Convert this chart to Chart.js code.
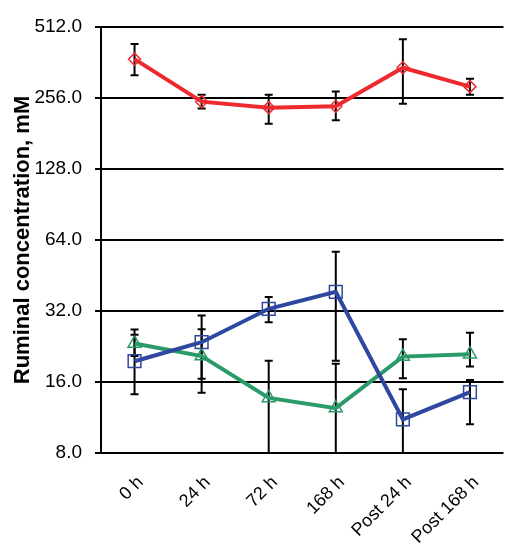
<!DOCTYPE html>
<html><head><meta charset="utf-8">
<script src="https://cdn.jsdelivr.net/npm/chart.js@4"></script>
<style>html,body{margin:0;padding:0;background:#fff;}#wrap{width:514px;height:546px;}</style>
</head><body><div id="wrap"><canvas id="c" width="514" height="546"></canvas></div>
<script>
const categories = ['0 h','24 h','72 h','168 h','Post 24 h','Post 168 h'];
const yTicks = [8,16,32,64,128,256,512];

const redVals = [374, 247, 233, 236, 344, 286];
const redLo   = [320, 231, 199, 206, 242, 264];
const redHi   = [434, 264, 264, 273, 454, 309];

const blueVals = [19.6, 23.6, 32.7, 38.6, 11.1, 14.5];
const blueLo   = [14.2, 14.4, 28.7, 19.7, 8, 10.6];
const blueHi   = [25.4, 30.6, 36.7, 57.1, 14.9, 16.3];

const greenVals = [23.3, 20.6, 13.7, 12.4, 20.5, 21.0];
const greenLo   = [20.6, 16.5, 8, 8, 16.6, 18.6];
const greenHi   = [26.7, 26.8, 19.7, 19.1, 24.3, 25.9];

const RED = '#ee2a2e', BLUE = '#2e479f', GREEN = '#2a9a68';

const errorBars = {
  id: 'errorBars',
  beforeDatasetsDraw(chart) {
    const ctx = chart.ctx, ys = chart.scales.y, a = chart.chartArea;
    ctx.save();
    ctx.beginPath(); ctx.rect(a.left, a.top - 20, a.right - a.left, a.bottom - a.top + 20); ctx.clip();
    ctx.strokeStyle = '#000'; ctx.lineWidth = 2;
    chart.data.datasets.forEach((ds, di) => {
      const meta = chart.getDatasetMeta(di);
      meta.data.forEach((pt, i) => {
        const x = pt.x;
        const yl = Math.min(ys.getPixelForValue(ds.errLo[i]), a.bottom);
        const yh = ys.getPixelForValue(ds.errHi[i]);
        ctx.beginPath();
        ctx.moveTo(x, yl); ctx.lineTo(x, yh);
        ctx.moveTo(x - 4, yl); ctx.lineTo(x + 4, yl);
        ctx.moveTo(x - 4, yh); ctx.lineTo(x + 4, yh);
        ctx.stroke();
      });
    });
    ctx.restore();
  }
};

function ds(label, data, lo, hi, color, style, r) {
  return { label, data, errLo: lo, errHi: hi, borderColor: color, backgroundColor: 'rgba(0,0,0,0)',
    borderWidth: 4, pointStyle: style, pointRadius: r, pointBorderWidth: 1.5,
    pointBorderColor: color, pointBackgroundColor: 'rgba(0,0,0,0)', tension: 0, clip: false };
}

new Chart(document.getElementById('c'), {
  type: 'line',
  data: {
    labels: categories,
    datasets: [
      ds('Red', redVals, redLo, redHi, RED, 'rectRot', 6),
      ds('Blue', blueVals, blueLo, blueHi, BLUE, 'rect', 9),
      ds('Green', greenVals, greenLo, greenHi, GREEN, 'triangle', 7.5)
    ]
  },
  options: {
    responsive: false, animation: false, devicePixelRatio: 1,
    layout: { padding: { top: 27, right: 0, left: 0, bottom: 0 } },
    plugins: { legend: { display: false }, tooltip: { enabled: false } },
    scales: {
      x: {
        type: 'category', offset: true,
        grid: { display: false, drawTicks: false },
        border: { display: false },
        ticks: { color: '#000', font: { family: 'Liberation Sans, Arial', size: 18 },
          maxRotation: 45, minRotation: 45, padding: 19, labelOffset: 6, autoSkip: false },
        afterFit(s) { s.height = 93; }
      },
      y: {
        type: 'logarithmic', min: 8, max: 512,
        afterBuildTicks(s) { s.ticks = yTicks.map(v => ({ value: v })); },
        grid: { color: '#000', lineWidth: 2, tickLength: 6, drawTicks: true, tickColor: '#000', tickWidth: 2 },
        border: { display: true, color: '#000', width: 2 },
        ticks: { color: '#000', font: { family: 'Liberation Sans, Arial', size: 19 }, padding: 13,
          callback: v => Number(v).toFixed(1) },
        title: { display: true, text: 'Ruminal concentration, mM', color: '#000',
          font: { family: 'Liberation Sans, Arial', size: 22, weight: 'bold' }, padding: { top: 10, bottom: 0 } },
        afterFit(s) { s.width = 101; }
      }
    }
  },
  plugins: [errorBars]
});
</script></body></html>
